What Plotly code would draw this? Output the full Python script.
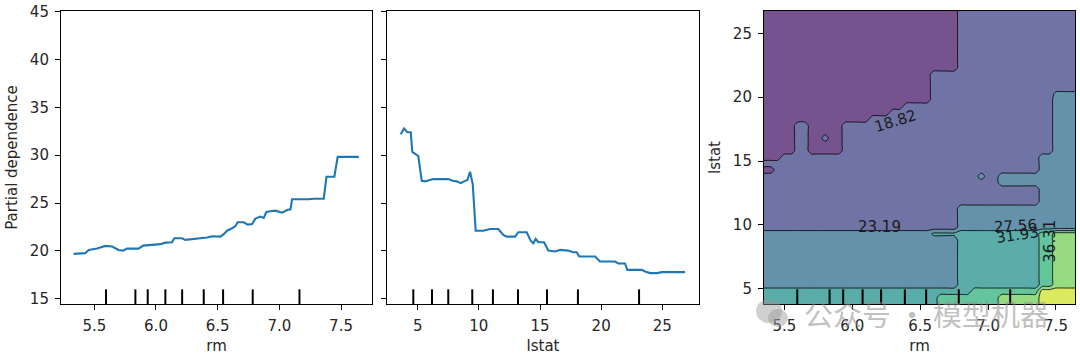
import plotly.graph_objects as go

# ---------------- data ----------------
RM_PD_X = [5.332, 5.427, 5.454, 5.522, 5.589, 5.644, 5.697, 5.733, 5.765, 5.859, 5.895, 6.035,
           6.076, 6.130, 6.149, 6.211, 6.238, 6.373, 6.414, 6.455, 6.522, 6.549, 6.576, 6.617,
           6.644, 6.662, 6.711, 6.743, 6.779, 6.806, 6.846, 6.873, 6.895, 6.927, 6.968, 7.022,
           7.063, 7.090, 7.103, 7.238, 7.279, 7.360, 7.382, 7.446, 7.473, 7.644]
RM_PD_Y = [19.69, 19.76, 20.10, 20.24, 20.52, 20.45, 20.10, 20.03, 20.24, 20.24, 20.55, 20.70,
           20.86, 20.90, 21.32, 21.32, 21.15, 21.35, 21.39, 21.53, 21.49, 21.74, 22.11, 22.36,
           22.60, 22.99, 22.99, 22.74, 22.81, 23.37, 23.58, 23.44, 24.06, 24.14, 24.20, 23.99,
           24.27, 24.34, 25.39, 25.39, 25.45, 25.45, 27.74, 27.74, 29.82, 29.82]

LSTAT_PD_X = [3.61, 3.88, 4.15, 4.43, 4.56, 5.05, 5.33, 5.60, 6.00, 6.28, 7.50, 7.86, 8.19,
              8.52, 8.79, 9.06, 9.28, 9.50, 9.74, 10.36, 10.91, 11.59, 12.00, 12.28, 12.96,
              13.23, 13.91, 14.24, 14.45, 14.65, 14.86, 15.33, 15.68, 16.23, 16.64, 17.31,
              17.72, 18.00, 18.21, 19.50, 19.91, 20.72, 21.13, 21.40, 21.95, 22.14, 23.32,
              23.59, 24.00, 24.59, 24.95, 26.86]
LSTAT_PD_Y = [32.19, 32.78, 32.40, 32.40, 30.34, 29.90, 27.32, 27.26, 27.40, 27.50, 27.50,
              27.32, 27.26, 27.08, 27.26, 27.40, 28.26, 26.98, 22.11, 22.11, 22.29, 22.29,
              21.67, 21.49, 21.49, 21.95, 21.95, 21.07, 20.80, 21.25, 20.90, 20.90, 20.03,
              19.93, 20.10, 20.03, 19.86, 19.86, 19.41, 19.41, 18.89, 18.85, 18.89, 18.68,
              18.68, 18.02, 18.02, 17.84, 17.68, 17.68, 17.78, 17.78]

RM_DECILES = [5.595, 5.833, 5.933, 6.076, 6.212, 6.387, 6.544, 6.784, 7.163]
LSTAT_DECILES = [4.64, 6.17, 7.50, 9.46, 11.15, 13.20, 15.57, 18.10, 23.10]

CONTOUR_LEVELS = [14.45, 18.82, 23.19, 27.56, 31.93, 36.31, 40.68, 45.06]
# partial dependence value for each map symbol (band centres, plus two thin slivers)
PD_VALUE = {"0": 16.64, "1": 21.01, "2": 25.38, "3": 29.75, "4": 34.12, "5": 38.50,
            "6": 42.87, "s": 24.00, "t": 28.50}

RM_GRID = [5.35, 5.40, 5.45, 5.50, 5.55, 5.60, 5.65, 5.70, 5.75, 5.80, 5.85, 5.90, 5.95, 6.00,
           6.05, 6.10, 6.15, 6.20, 6.25, 6.30, 6.35, 6.40, 6.45, 6.50, 6.55, 6.60, 6.65, 6.70,
           6.75, 6.80, 6.85, 6.90, 6.95, 7.00, 7.05, 7.10, 7.15, 7.20, 7.25, 7.30, 7.35, 7.40,
           7.45, 7.50, 7.55, 7.60, 7.65]
LSTAT_GRID = [3.8, 4.3, 4.8, 5.3, 5.8, 6.3, 6.8, 7.3, 7.8, 8.3, 8.8, 9.3, 9.8, 10.3, 10.8,
              11.3, 11.8, 12.3, 12.8, 13.3, 13.8, 14.3, 14.8, 15.3, 15.8, 16.3, 16.8, 17.3,
              17.8, 18.3, 18.8, 19.3, 19.8, 20.3, 20.8, 21.3, 21.8, 22.3, 22.8, 23.3, 23.8,
              24.3, 24.8, 25.3, 25.8, 26.3, 26.8]

# 2-way partial dependence map, rows from lstat=26.8 (top) down to 3.8
PD_MAP = [
    "00000000000000000000000000000111111111111111111",
    "00000000000000000000000000000111111111111111111",
    "00000000000000000000000000000111111111111111111",
    "00000000000000000000000000000111111111111111111",
    "00000000000000000000000000000111111111111111111",
    "00000000000000000000000000000111111111111111111",
    "00000000000000000000000000000111111111111111111",
    "00000000000000000000000000000111111111111111111",
    "00000000000000000000000000000111111111111111111",
    "00000000000000000000000000000111111111111111111",
    "00000000000000000000000001111111111111111111111",
    "00000000000000000000000001111111111111111111111",
    "00000000000000000000000001111111111111111111111",
    "0000000000000000000000000111111111111111111ssss",
    "00000000000000000000000001111111111111111112222",
    "00000000000000000000011111111111111111111112222",
    "00000000000000000001111111111111111111111112222",
    "00000000000000001111111111111111111111111112222",
    "00000110000011111111111111111111111111111112222",
    "00000110000011111111111111111111111111111112222",
    "00000110010011111111111111111111111111111112222",
    "00000110000011111111111111111111111111111112222",
    "00000110000011111111111111111111111111111112222",
    "00011111111111111111111111111111111111111222222",
    "11111111111111111111111111111111111111111222222",
    "00111111111111111111111111111111111111111222222",
    "11111111111111111111111111111111211222222222222",
    "11111111111111111111111111111111111222222222222",
    "11111111111111111111111111111111111111111222222",
    "11111111111111111111111111111111111111111222222",
    "11111111111111111111111111111111111111111222222",
    "11111111111111111111111111111222222222222222222",
    "11111111111111111111111111111222222222222222222",
    "11111111111111111111111111111222222222222222222",
    "11111111111111111111111111111222222222222222222",
    "2222222222222222222222222tttt333333333333445555",
    "22222222222222222222222222222333333333333445555",
    "22222222222222222222222222222333333333333445555",
    "22222222222222222222222222222333333333333445555",
    "22222222222222222222222222222333333333333445555",
    "22222222222222222222222222222333333333333445555",
    "22222222222222222222222222222333333333333445555",
    "22222222222222222222222222222333333333333445555",
    "22222222222222222222222222222333333333333445555",
    "33333333333333333333333333333334444444444666666",
    "33333333333333333333333333444444444555555666666",
    "33333333333333333333333333444444444555555666666",
]

CONTOUR_LABELS = ["18.82", "23.19", "27.56", "31.93", "36.31"]
LABEL_RM = [6.32, 6.20, 7.20, 7.22, 7.455]
LABEL_LSTAT = [18.13, 9.81, 9.89, 9.20, 8.75]
LABEL_ANGLE = [-17, 0, -3, -8, -90]

RM_TICKS = [5.5, 6.0, 6.5, 7.0, 7.5]
LSTAT_TICKS = [5, 10, 15, 20, 25]
PD_TICKS = [15, 20, 25, 30, 35, 40, 45]

WATERMARK = "公众号 · 模型机器"

# ---------------- styling ----------------
W, H = 1080, 359
ML, MR, MT, MB = 61, 5, 11, 55
PW = W - ML - MR
PH = H - MT - MB
FONT = "DejaVu Sans"
TXT = "#262626"
BLUE = "#1f77b4"
BAND_COLORS = ["#76528f", "#6f74a5", "#6392aa", "#5aaca8", "#64c59d", "#96db7f", "#dbe95e"]


def dx(px):
    return (px - ML) / PW


def dy(py):
    return (H - MB - py) / PH


assert len(PD_MAP) == len(LSTAT_GRID)
for r in PD_MAP:
    assert len(r) == len(RM_GRID), (len(r), r)

Z = [[PD_VALUE[c] for c in row] for row in reversed(PD_MAP)]

fig = go.Figure()

fig.add_trace(go.Scatter(x=RM_PD_X, y=RM_PD_Y, mode="lines",
                         line=dict(color=BLUE, width=2.1), xaxis="x", yaxis="y",
                         showlegend=False, hoverinfo="skip"))
fig.add_trace(go.Scatter(x=LSTAT_PD_X, y=LSTAT_PD_Y, mode="lines",
                         line=dict(color=BLUE, width=2.1), xaxis="x2", yaxis="y2",
                         showlegend=False, hoverinfo="skip"))

n_lines = len(CONTOUR_LEVELS) - 2
colorscale = [[k / n_lines, BAND_COLORS[k]] for k in range(len(BAND_COLORS))]
fig.add_trace(go.Contour(
    x=RM_GRID, y=LSTAT_GRID, z=Z, xaxis="x3", yaxis="y3",
    colorscale=colorscale, showscale=False, autocontour=False,
    contours=dict(start=CONTOUR_LEVELS[1], end=CONTOUR_LEVELS[-2],
                  size=(CONTOUR_LEVELS[-2] - CONTOUR_LEVELS[1]) / (n_lines - 1),
                  coloring="fill", showlines=True),
    line=dict(color="black", width=0.8, smoothing=0.7),
    hoverinfo="skip"))

shapes = []
for xa, ya, decs in (("x", "y", RM_DECILES), ("x2", "y2", LSTAT_DECILES), ("x3", "y3", RM_DECILES)):
    for d in decs:
        shapes.append(dict(type="line", xref=xa, yref=ya + " domain", x0=d, x1=d, y0=0, y1=0.05,
                           line=dict(color="black", width=2), layer="above"))

# watermark icon
shapes.append(dict(type="circle", xref="paper", yref="paper", x0=dx(756), x1=dx(782),
                   y0=dy(323), y1=dy(299), fillcolor="rgba(150,150,150,0.45)", line=dict(width=0)))
shapes.append(dict(type="circle", xref="paper", yref="paper", x0=dx(768), x1=dx(788),
                   y0=dy(327), y1=dy(309), fillcolor="rgba(150,150,150,0.45)", line=dict(width=0)))

annotations = []
for t, xv, yv, ang in zip(CONTOUR_LABELS, LABEL_RM, LABEL_LSTAT, LABEL_ANGLE):
    annotations.append(dict(x=xv, y=yv, xref="x3", yref="y3", text=t, showarrow=False,
                            textangle=ang, font=dict(family=FONT, size=15, color="#1a1a1a")))
annotations.append(dict(x=dx(802), y=dy(313), xref="paper", yref="paper",
                        xanchor="left", yanchor="middle",
                        text=WATERMARK, showarrow=False,
                        font=dict(family="Noto Sans CJK SC", size=29, color="rgba(140,140,140,0.55)")))

tickfont = dict(family=FONT, size=15, color=TXT)
titlefont = dict(family=FONT, size=15, color=TXT)
base = dict(showline=True, linecolor="black", linewidth=1.1, mirror=True, ticks="outside",
            ticklen=5, tickwidth=1.1, tickcolor="black", showgrid=False, zeroline=False,
            tickfont=tickfont, ticklabelstandoff=3)

fig.update_layout(
    width=W, height=H, margin=dict(l=ML, r=MR, t=MT, b=MB, autoexpand=False),
    paper_bgcolor="white", plot_bgcolor="white", showlegend=False,
    xaxis=dict(base, domain=[dx(61), dx(372)], anchor="y", range=[5.23, 7.751],
               tickvals=RM_TICKS, ticktext=[f"{v:.1f}" for v in RM_TICKS],
               title=dict(text="rm", font=titlefont, standoff=6)),
    yaxis=dict(base, domain=[0, 1], anchor="x", range=[CONTOUR_LEVELS[0], CONTOUR_LEVELS[-1]],
               tickvals=PD_TICKS,
               title=dict(text="Partial dependence", font=titlefont, standoff=8)),
    xaxis2=dict(base, domain=[dx(387), dx(699)], anchor="y2", range=[2.49, 28.0],
                tickvals=LSTAT_TICKS,
                title=dict(text="lstat", font=titlefont, standoff=6)),
    yaxis2=dict(base, domain=[0, 1], anchor="x2", range=[CONTOUR_LEVELS[0], CONTOUR_LEVELS[-1]],
                tickvals=PD_TICKS, showticklabels=False),
    xaxis3=dict(base, domain=[dx(764), dx(1075)], anchor="y3", range=[5.35, 7.64],
                tickvals=RM_TICKS, ticktext=[f"{v:.1f}" for v in RM_TICKS],
                title=dict(text="rm", font=titlefont, standoff=6)),
    yaxis3=dict(base, domain=[0, 1], anchor="x3", range=[3.80, 26.75],
                tickvals=LSTAT_TICKS,
                title=dict(text="lstat", font=titlefont, standoff=8)),
    shapes=shapes, annotations=annotations,
)

fig.write_html("out.html")
